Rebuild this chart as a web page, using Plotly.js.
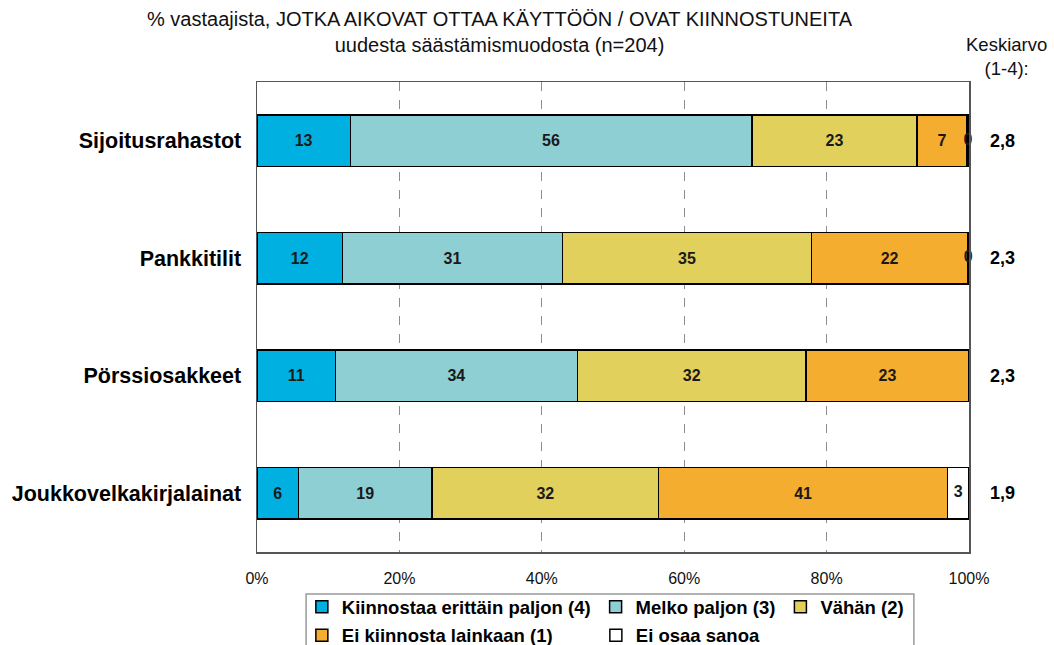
<!DOCTYPE html>
<html>
<head>
<meta charset="utf-8">
<script src="https://cdn.plot.ly/plotly-3.0.1.min.js"></script>
<style>html,body{margin:0;padding:0;background:#fff;}#chart{width:1054px;height:645px;}</style>
</head>
<body>
<div id="chart"></div>
<script>
// Data
const categories = ["Sijoitusrahastot", "Pankkitilit", "Pörssiosakkeet", "Joukkovelkakirjalainat"];
const seriesNames = ["Kiinnostaa erittäin paljon (4)", "Melko paljon (3)", "Vähän (2)", "Ei kiinnosta lainkaan (1)", "Ei osaa sanoa"];
const veryMuch = [13.1, 12.0, 11.0, 5.8];
const quiteMuch = [56.4, 30.9, 34.0, 18.8];
const little = [23.2, 35.0, 32.1, 31.8];
const notAtAll = [7.0, 21.9, 22.9, 40.6];
const dontKnow = [0.3, 0.2, null, 3.0];
const means = ["2,8", "2,3", "2,3", "1,9"];
const xTickVals = [0, 20, 40, 60, 80, 100];
const xTickText = ["0%", "20%", "40%", "60%", "80%", "100%"];
const titleText = "% vastaajista, JOTKA AIKOVAT OTTAA KÄYTTÖÖN / OVAT KIINNOSTUNEITA<br>uudesta säästämismuodosta (n=204)";
const meanTitle = "Keskiarvo<br>(1-4):";

const colors = ["#00B0E0", "#8ECFD4", "#E1D05B", "#F5AD2F", "#FFFFFF"];
const values = [veryMuch, quiteMuch, little, notAtAll, dontKnow];
const legendOf = ["legend", "legend", "legend", "legend2", "legend2"];
const FONT = "Liberation Sans, Arial, sans-serif";
const barTextFont = {family: FONT, size: 16, color: "#1a1a1a", weight: "bold"};

const traces = values.map((v, i) => ({
  type: "bar",
  orientation: "h",
  name: seriesNames[i],
  legend: legendOf[i],
  y: categories,
  x: v,
  text: v.map(d => d === null ? "" : Math.round(d).toString()),
  textposition: i === 4 ? "none" : "inside",
  insidetextanchor: "middle",
  constraintext: "none",
  textangle: 0,
  textfont: barTextFont,
  marker: {color: colors[i], line: {color: "#000000", width: 1.5}},
  hoverinfo: "x+y+name"
}));

// labels of the last (often tiny) segment, placed at the segment centre computed from the data
const lastStart = categories.map((c, j) => veryMuch[j] + quiteMuch[j] + little[j] + notAtAll[j]);
traces.push({
  type: "scatter",
  mode: "text",
  showlegend: false,
  y: categories,
  x: dontKnow.map((d, j) => d === null ? null : lastStart[j] + d / 2),
  text: dontKnow.map(d => d === null ? "" : Math.round(d).toString()),
  textposition: "middle center",
  textfont: barTextFont,
  cliponaxis: false,
  hoverinfo: "skip"
});

const annotations = categories.map((c, i) => ({
  xref: "paper", yref: "y",
  x: 1.0675, y: c,
  text: "<b>" + means[i] + "</b>",
  showarrow: false,
  font: {family: FONT, size: 18, color: "#000"}
}));
annotations.push({
  xref: "paper", yref: "paper",
  x: 1.052, y: 1.0532,
  xanchor: "center", yanchor: "middle",
  text: meanTitle,
  showarrow: false,
  font: {family: FONT, size: 18.5, color: "#111"}
});
annotations.push({
  xref: "paper", yref: "paper",
  x: 0.3418, y: 1.1074,
  xanchor: "center", yanchor: "middle",
  text: titleText,
  showarrow: false,
  font: {family: FONT, size: 20, color: "#111"}
});

const legendBase = {
  orientation: "h",
  xanchor: "left",
  yanchor: "top",
  borderwidth: 0,
  bgcolor: "rgba(0,0,0,0)",
  font: {family: FONT, size: 18.5, color: "#000", weight: "bold"},
  traceorder: "normal",
  itemwidth: 30
};

const layout = {
  width: 1054, height: 645,
  margin: {l: 257, r: 85, t: 82, b: 93, autoexpand: false},
  paper_bgcolor: "#fff", plot_bgcolor: "#fff",
  barmode: "stack",
  bargap: 0.56,
  xaxis: {
    range: [0, 100],
    tickvals: xTickVals, ticktext: xTickText,
    ticks: "outside", ticklen: 11, tickcolor: "rgba(0,0,0,0)",
    tickfont: {family: FONT, size: 16, color: "#111"},
    showgrid: true, gridcolor: "#8c8c8c", griddash: "dash", gridwidth: 1,
    zeroline: false,
    showline: true, linecolor: "#555", linewidth: 1.5, mirror: true,
    fixedrange: true
  },
  yaxis: {
    autorange: "reversed",
    ticks: "outside", ticklen: 10, tickcolor: "rgba(0,0,0,0)",
    tickfont: {family: FONT, size: 21.5, color: "#000", weight: "bold"},
    showgrid: false, zeroline: false,
    showline: true, linecolor: "#555", linewidth: 1.5, mirror: true,
    fixedrange: true
  },
  uniformtext: {mode: "show", minsize: 16},
  showlegend: true,
  legend: Object.assign({}, legendBase, {x: 0.063, y: -0.077}),
  legend2: Object.assign({}, legendBase, {x: 0.063, y: -0.1375, entrywidth: 249, entrywidthmode: "pixels"}),
  shapes: [{
    type: "rect", xref: "paper", yref: "paper",
    x0: 0.069, x1: 0.9226, y0: -0.0894, y1: -0.215,
    line: {color: "#9a9a9a", width: 1.5},
    fillcolor: "rgba(0,0,0,0)"
  }],
  annotations: annotations
};

Plotly.newPlot("chart", traces, layout, {displayModeBar: false, staticPlot: true});
</script>
</body>
</html>
